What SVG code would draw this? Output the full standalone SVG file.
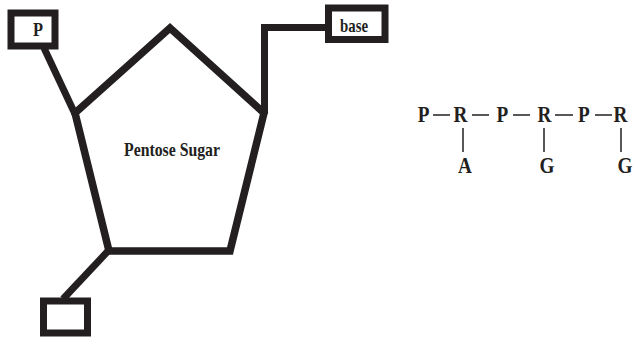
<svg xmlns="http://www.w3.org/2000/svg" width="633" height="339" viewBox="0 0 633 339">
<style>
.box{fill:#fff;stroke:#231f20;stroke-width:7}
.edge{fill:none;stroke:#231f20;stroke-width:7;stroke-linecap:butt}
.bond{stroke:#231f20;stroke-width:1.5}
.t{font-family:"Liberation Serif","Times New Roman",serif;font-weight:bold;fill:#231f20}
.f{font-size:24px;text-anchor:middle}
</style>
<rect width="633" height="339" fill="#fff"/>
<g id="connectors">
<line class="edge" x1="44" y1="48" x2="75" y2="114" stroke-width="6"/>
<polyline class="edge" points="264.5,114 264.5,27.5 326,27.5" stroke-width="7"/>
<line class="edge" x1="109" y1="250" x2="63" y2="299" stroke-width="7"/>
<g class="bond">
<line x1="433" y1="115" x2="450" y2="115"/>
<line x1="472" y1="115" x2="489" y2="115"/>
<line x1="513" y1="115" x2="530" y2="115"/>
<line x1="555" y1="115" x2="573" y2="115"/>
<line x1="595" y1="115" x2="612" y2="115"/>
<line x1="463" y1="128" x2="463" y2="152"/>
<line x1="544" y1="128" x2="544" y2="152"/>
<line x1="621" y1="128" x2="621" y2="152"/>
</g>
</g>
<g id="sugar">
<polygon points="75,113 170,28 264,113 230,251 109,251" fill="none" stroke="#231f20" stroke-width="7.5" stroke-linejoin="miter"/>
<text class="t" x="124" y="156" font-size="19" textLength="96" lengthAdjust="spacingAndGlyphs">Pentose Sugar</text>
</g>
<g id="phosphate">
<rect class="box" x="11" y="13" width="44" height="33" stroke-width="6"/>
<text class="t" x="33" y="36" font-size="19" textLength="10" lengthAdjust="spacingAndGlyphs">P</text>
</g>
<g id="base">
<rect class="box" x="328.5" y="8" width="56.5" height="31.5"/>
<text class="t" x="340" y="32" font-size="19" textLength="28" lengthAdjust="spacingAndGlyphs">base</text>
</g>
<g id="empty-box">
<rect class="box" x="43.5" y="301" width="44" height="32"/>
</g>
<g id="chain" transform="scale(0.8 1)">
<text id="p1" class="t f" x="529.4" y="122">P</text>
<text id="r1" class="t f" x="575.6" y="122">R</text>
<text id="p2" class="t f" x="628.1" y="122">P</text>
<text id="r2" class="t f" x="680.6" y="122">R</text>
<text id="p3" class="t f" x="730" y="122">P</text>
<text id="r3" class="t f" x="775.6" y="122">R</text>
<text id="a" class="t f" x="581.3" y="173">A</text>
<text id="g1" class="t f" x="683.8" y="173">G</text>
<text id="g2" class="t f" x="781.3" y="173">G</text>
</g>
</svg>
